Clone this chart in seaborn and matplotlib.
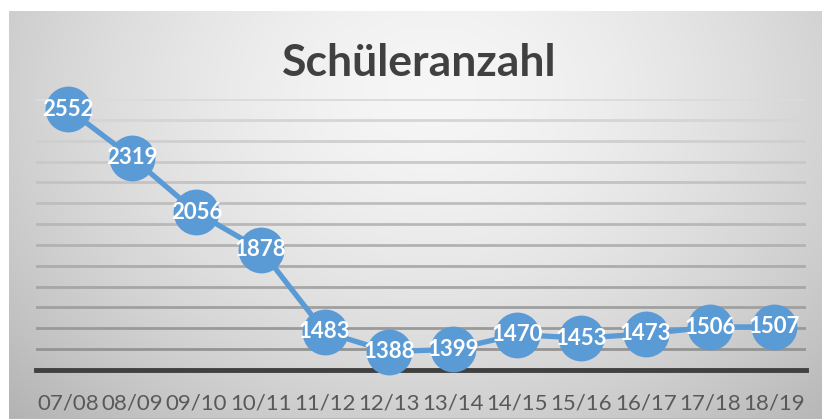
import numpy as np
import matplotlib
matplotlib.use("Agg")
import matplotlib.pyplot as plt
import seaborn as sns
import pandas as pd

# Schuljahre und Schülerzahlen
years = ["07/08", "08/09", "09/10", "10/11", "11/12", "12/13",
         "13/14", "14/15", "15/16", "16/17", "17/18", "18/19"]
students = [2552, 2319, 2056, 1878, 1483, 1388, 1399, 1470, 1453, 1473, 1506, 1507]
y_ticks = list(range(1300, 2700, 100))

sns.set_theme(style="white")
plt.rcParams['font.family'] = ['Lato', 'DejaVu Sans']

W, H = 822, 419
fig = plt.figure(figsize=(W / 100, H / 100), dpi=100)
fig.patch.set_facecolor("white")

# radial gradient background of the chart frame
fx0, fy0 = 9, 11
bg = fig.add_axes([fx0 / W, 0, (W - fx0) / W, (H - fy0) / H])
gx, gy = np.meshgrid(np.linspace(0, 1, 400), np.linspace(0, 1, 200))
d = np.sqrt(((gx - 0.52) / 0.62) ** 2 + ((gy - 0.2) / 0.95) ** 2)
shade = 0.965 - 0.2 * np.clip(d, 0, 1.3) ** 1.6
bg.imshow(np.dstack([shade] * 3), aspect="auto", extent=(0, 1, 1, 0))
bg.axhline(1, color="#b8b8b8", lw=2)
bg.set_xlim(0, 1)
bg.set_ylim(1, 0)
bg.axis("off")

# plot area
left, right, top, bottom = 36, 806, 99, 370
ax = fig.add_axes([left / W, (H - bottom) / H, (right - left) / W, (bottom - top) / H])
ax.patch.set_alpha(0)

df = pd.DataFrame({"Jahr": years, "Schüler": students})
sns.lineplot(data=df, x="Jahr", y="Schüler", ax=ax, color="#5b9bd5", lw=3.8,
             marker="o", markersize=33, markeredgewidth=0, sort=False, zorder=3,
             clip_on=False)

for i, v in enumerate(students):
    ax.text(i, v, str(v), ha="center", va="center", color="white",
            fontsize=16, fontweight="bold", zorder=4)

ax.set_xlim(-0.5, len(years) - 0.5)
ax.set_ylim(1300, 2600)
ax.set_yticks(y_ticks)
ax.set_yticklabels([])
ax.tick_params(axis="y", length=0)
ax.tick_params(axis="x", length=0, pad=17, labelsize=16, labelcolor="#595959")
ax.set_xlabel("")
ax.set_ylabel("")

# horizontal gridlines, darker toward the bottom
for t in y_ticks[1:]:
    frac = (t - 1400) / 1200
    c = 0.58 + 0.28 * frac
    ax.axhline(t, color=(c, c, c), lw=2, zorder=1)

for s in ["top", "right", "left"]:
    ax.spines[s].set_visible(False)
ax.spines["bottom"].set_color("#404040")
ax.spines["bottom"].set_linewidth(3.5)

fig.text(419 / W, 1 - 63 / H, "Schüleranzahl", ha="center", va="center",
         fontsize=32, fontweight="bold", color="#404040")

fig.savefig("out.png", dpi=100)
